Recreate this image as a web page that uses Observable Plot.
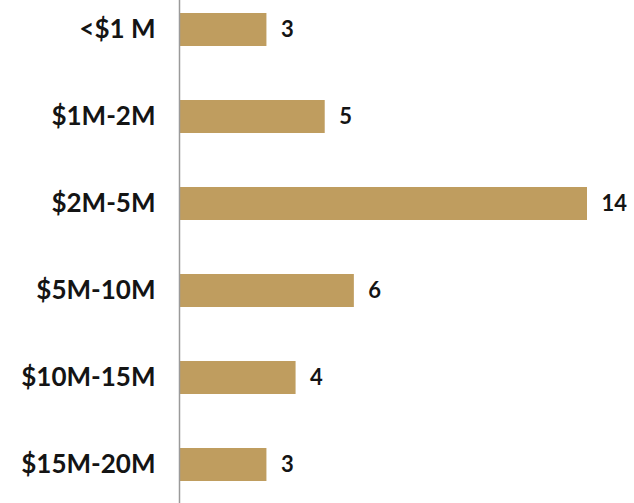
<!DOCTYPE html>
<html>
<head>
<meta charset="utf-8">
<script src="https://cdn.jsdelivr.net/npm/d3@7"></script>
<script src="https://cdn.jsdelivr.net/npm/@observablehq/plot@0.6"></script>
<style>
  html, body { margin: 0; padding: 0; background: #fff; }
  #chart svg { display: block; }
</style>
</head>
<body>
<div id="chart"></div>
<script>
const categories = ["<$1 M", "$1M-2M", "$2M-5M", "$5M-10M", "$10M-15M", "$15M-20M"];
const counts = [3, 5, 14, 6, 4, 3];

const data = categories.map((c, i) => ({category: c, count: counts[i]}));

const chart = Plot.plot({
  width: 634,
  height: 503,
  marginLeft: 179,
  marginRight: 47,
  marginTop: 0,
  marginBottom: 0,
  style: {fontFamily: "Lato, sans-serif", background: "#fff"},
  x: {domain: [0, 14], axis: null},
  y: {domain: categories, range: [-41.3, 536.1], padding: 0.62, axis: null},
  marks: [
    Plot.barX(data, {x: "count", y: "category", fill: "#BF9D5F"}),
    Plot.text(data, {
      x: 0, y: "category", text: "category", textAnchor: "end", dx: -24,
      fontSize: 26, fontWeight: "bold", fill: "#141414"
    }),
    Plot.text(data, {
      x: "count", y: "category", text: d => String(d.count), textAnchor: "start", dx: 14,
      fontSize: 22, fontWeight: "bold", fill: "#141414"
    }),
    Plot.ruleX([0], {stroke: "#9a9a9a", strokeWidth: 1.5})
  ]
});
document.getElementById("chart").appendChild(chart);
</script>
</body>
</html>
